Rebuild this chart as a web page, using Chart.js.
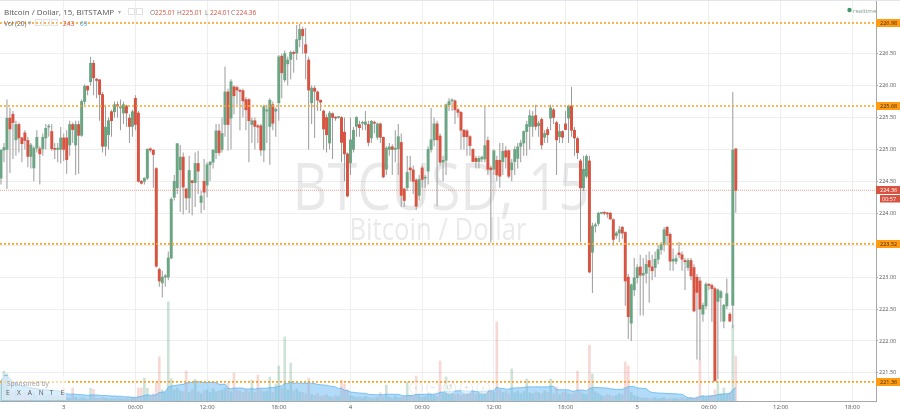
<!DOCTYPE html>
<html>
<head>
<meta charset="utf-8">
<script src="https://cdn.jsdelivr.net/npm/chart.js@4.4.1/dist/chart.umd.min.js"></script>
<style>
  html, body { margin: 0; padding: 0; background: #fff; }
  #chart { display: block; }
</style>
</head>
<body>
<canvas id="chart" width="900" height="410"></canvas>
<script>
// 15 minute BTCUSD bars, first bar is 21 bars before "3" 00:00
const firstBar = -21;

const opens = [
  224.55, 224.99, 225.00, 225.49, 225.55, 225.15, 225.39, 225.18, 225.26, 225.14,
  224.89, 224.71, 225.02, 225.01, 225.01, 225.18, 225.35, 225.28, 225.01, 225.00,
  225.00, 225.18, 225.18, 225.07, 225.39, 225.07, 225.39, 225.22, 225.75, 225.99,
  226.06, 226.35, 226.10, 226.09, 225.86, 225.05, 225.23, 225.59, 225.59, 225.70,
  225.65, 225.57, 225.68, 225.49, 225.36, 225.80, 225.57, 224.50, 224.50, 224.55,
  225.01, 224.99, 224.70, 223.12, 222.91, 223.00, 223.00, 223.30, 224.25, 224.40,
  224.68, 224.88, 224.38, 224.24, 224.51, 224.48, 224.78, 224.17, 224.50, 224.44,
  224.76, 224.80, 224.95, 225.29, 225.00, 225.39, 225.90, 225.49, 225.98, 225.97,
  225.92, 225.92, 225.78, 225.78, 225.39, 225.45, 225.37, 225.37, 224.99, 225.60,
  225.36, 225.70, 225.60, 225.73, 226.46, 226.09, 226.34, 226.41, 226.52, 226.51,
  226.72, 226.88, 226.64, 226.40, 225.73, 225.96, 225.90, 225.77, 225.60, 225.50,
  225.10, 225.56, 225.50, 225.50, 225.50, 225.27, 224.93, 224.79, 225.00, 225.36,
  225.39, 225.41, 225.39, 225.39, 225.18, 225.42, 225.19, 225.40, 225.19, 224.69,
  225.00, 225.04, 225.00, 225.01, 225.11, 224.38, 224.40, 224.71, 224.68, 224.52,
  224.28, 224.71, 224.55, 224.66, 225.00, 225.15, 225.40, 225.21, 224.80, 224.83,
  225.70, 225.76, 225.76, 225.62, 225.58, 225.30, 225.29, 225.20, 225.00, 224.86,
  224.81, 224.85, 224.85, 225.14, 224.71, 224.69, 224.83, 224.83, 224.81, 224.98,
  224.98, 224.68, 224.81, 224.86, 225.05, 225.10, 225.28, 225.36, 225.36, 225.53,
  225.37, 225.47, 225.19, 225.31, 225.49, 225.62, 225.42, 225.20, 225.28, 225.40,
  225.49, 225.68, 225.30, 225.17, 224.82, 224.40, 224.58, 224.82, 223.39, 223.80,
  223.84, 224.00, 224.01, 224.00, 224.00, 223.90, 223.65, 223.69, 223.78, 223.70,
  223.00, 222.28, 222.80, 222.99, 223.16, 223.03, 223.06, 223.26, 223.16, 223.15,
  223.28, 223.43, 223.51, 223.78, 223.67, 223.25, 223.25, 223.38, 223.35, 223.26,
  223.15, 223.26, 223.15, 223.00, 222.94, 222.42, 222.55, 222.89, 222.87, 222.82,
  222.62, 222.68, 222.31, 222.55, 222.42, 222.56, 225.01
];
const highs = [
  225.00, 225.10, 225.78, 225.65, 225.60, 225.45, 225.42, 225.20, 225.30, 225.20,
  225.10, 225.05, 225.30, 225.05, 225.25, 225.40, 225.40, 225.40, 225.10, 225.10,
  225.35, 225.25, 225.30, 225.45, 225.42, 225.45, 225.45, 225.78, 226.02, 226.00,
  226.45, 226.40, 226.12, 226.10, 225.90, 225.70, 225.50, 225.62, 225.75, 225.75,
  225.78, 225.75, 225.70, 225.55, 225.62, 225.85, 225.60, 224.52, 224.56, 225.02,
  225.03, 225.00, 224.72, 223.15, 223.10, 223.05, 223.40, 224.25, 224.60, 225.10,
  225.07, 224.95, 224.40, 224.90, 224.52, 224.95, 224.98, 224.35, 224.85, 224.80,
  224.82, 225.00, 225.40, 225.40, 225.50, 226.30, 225.95, 226.10, 226.00, 226.00,
  225.95, 225.95, 225.82, 225.80, 225.50, 225.50, 225.40, 225.40, 225.70, 225.70,
  225.80, 225.75, 225.66, 226.48, 226.50, 226.55, 226.45, 226.55, 226.55, 226.95,
  226.97, 226.92, 226.90, 226.45, 226.00, 226.00, 225.92, 225.78, 225.62, 225.55,
  225.60, 225.58, 225.52, 225.52, 225.52, 225.50, 224.95, 225.50, 225.35, 225.52,
  225.45, 225.45, 225.60, 225.45, 225.46, 225.45, 225.42, 225.42, 225.20, 225.05,
  225.10, 225.08, 225.30, 225.40, 225.25, 224.40, 224.90, 224.90, 224.75, 224.55,
  224.60, 224.75, 224.60, 225.05, 225.65, 225.50, 225.45, 225.25, 224.90, 225.72,
  225.80, 225.80, 225.78, 225.65, 225.60, 225.32, 225.32, 225.22, 225.02, 224.90,
  224.90, 224.90, 225.67, 225.20, 224.75, 225.00, 224.90, 225.10, 225.10, 225.05,
  225.00, 224.85, 225.05, 225.10, 225.15, 225.30, 225.45, 225.62, 225.60, 225.70,
  225.45, 225.50, 225.30, 225.35, 225.70, 225.65, 225.45, 225.40, 225.30, 225.60,
  225.70, 225.98, 225.35, 225.20, 224.85, 224.90, 224.92, 224.90, 223.85, 223.85,
  224.02, 224.02, 224.03, 224.02, 224.02, 223.92, 223.72, 223.80, 223.80, 223.72,
  223.05, 222.90, 223.30, 223.20, 223.35, 223.30, 223.35, 223.40, 223.35, 223.40,
  223.50, 223.55, 223.78, 223.80, 223.70, 223.45, 223.35, 223.55, 223.40, 223.30,
  223.30, 223.30, 223.20, 223.05, 223.00, 222.60, 222.92, 222.90, 222.90, 222.85,
  222.82, 222.80, 222.58, 222.98, 222.45, 225.90, 225.01
];
const lows = [
  224.45, 224.80, 224.38, 224.63, 224.85, 224.90, 224.95, 224.80, 225.00, 224.72,
  224.70, 224.50, 224.95, 224.45, 224.90, 225.00, 225.20, 224.98, 224.85, 224.80,
  224.78, 224.82, 224.62, 224.90, 225.10, 224.60, 224.62, 225.20, 225.70, 225.85,
  226.00, 225.85, 225.80, 225.45, 224.95, 224.90, 225.00, 225.20, 225.50, 225.50,
  225.30, 225.40, 225.35, 225.10, 225.20, 225.30, 224.48, 224.45, 224.45, 224.52,
  224.95, 224.40, 223.15, 222.85, 222.68, 222.85, 222.95, 223.28, 224.20, 224.30,
  224.02, 223.98, 224.05, 224.00, 223.97, 224.10, 224.30, 224.00, 224.05, 224.25,
  224.50, 224.70, 224.85, 224.90, 224.95, 225.20, 224.98, 225.00, 225.55, 225.70,
  225.30, 225.50, 225.30, 224.80, 225.10, 225.00, 225.10, 224.90, 224.80, 225.10,
  224.76, 225.30, 225.20, 225.45, 225.80, 226.05, 226.00, 226.10, 226.20, 226.40,
  226.60, 226.50, 226.10, 225.00, 225.40, 225.18, 225.60, 225.60, 225.00, 224.95,
  225.00, 224.85, 225.45, 225.48, 224.80, 224.50, 224.25, 224.60, 224.95, 225.20,
  225.20, 225.30, 225.30, 225.05, 225.10, 225.25, 225.15, 225.10, 224.55, 224.60,
  224.90, 224.60, 224.80, 224.60, 224.10, 224.10, 224.35, 224.50, 224.30, 224.05,
  224.20, 224.40, 224.40, 224.45, 224.95, 225.05, 224.11, 224.75, 224.50, 224.60,
  225.60, 225.60, 225.40, 225.50, 225.00, 225.00, 224.90, 224.90, 224.80, 224.70,
  224.70, 224.80, 224.80, 224.60, 223.54, 224.60, 224.50, 224.40, 224.60, 224.70,
  224.55, 224.50, 224.60, 224.70, 224.80, 224.90, 224.90, 225.00, 225.20, 225.30,
  225.20, 225.00, 225.10, 225.10, 225.30, 225.40, 224.60, 225.10, 225.10, 225.30,
  225.10, 225.20, 224.90, 224.85, 223.55, 224.35, 224.55, 223.06, 222.75, 223.70,
  223.80, 223.98, 223.97, 223.93, 223.90, 223.50, 223.60, 223.55, 223.60, 222.55,
  222.03, 222.00, 222.70, 222.90, 222.40, 222.40, 222.90, 222.60, 222.95, 223.00,
  223.20, 223.35, 223.40, 223.50, 223.10, 223.10, 223.20, 223.30, 223.10, 222.80,
  223.10, 222.95, 222.45, 221.71, 221.70, 222.30, 222.50, 222.80, 222.30, 221.36,
  221.40, 222.30, 222.20, 222.50, 222.30, 222.20, 224.01
];
const closes = [
  224.99, 225.03, 225.49, 225.32, 225.42, 225.39, 225.18, 225.09, 225.14, 224.89,
  225.07, 225.02, 225.19, 224.93, 225.19, 225.33, 225.36, 225.01, 225.00, 225.02,
  225.18, 225.00, 224.84, 225.39, 225.31, 225.39, 225.22, 225.75, 225.99, 225.93,
  226.35, 226.12, 226.08, 225.86, 225.05, 225.35, 225.45, 225.45, 225.70, 225.68,
  225.66, 225.70, 225.57, 225.36, 225.59, 225.39, 224.50, 224.47, 224.55, 225.00,
  224.99, 224.92, 223.17, 222.94, 223.00, 223.02, 223.30, 224.22, 224.50, 225.09,
  224.88, 224.41, 224.24, 224.67, 224.48, 224.78, 224.66, 224.27, 224.33, 224.76,
  224.80, 224.99, 225.29, 224.95, 225.25, 225.90, 225.39, 226.06, 225.84, 225.93,
  225.91, 225.76, 225.62, 225.45, 225.45, 225.36, 225.35, 224.99, 225.67, 225.62,
  225.77, 225.41, 225.63, 226.45, 226.20, 226.50, 226.40, 226.52, 226.50, 226.72,
  226.88, 226.78, 226.51, 225.93, 225.96, 225.91, 225.77, 225.74, 225.32, 225.23,
  225.57, 225.50, 225.49, 225.51, 225.11, 224.93, 224.27, 225.15, 225.30, 225.50,
  225.34, 225.42, 225.43, 225.11, 225.44, 225.41, 225.40, 225.19, 224.57, 225.02,
  225.04, 225.00, 225.02, 225.20, 224.28, 224.20, 224.64, 224.68, 224.50, 224.11,
  224.53, 224.53, 224.56, 225.00, 225.15, 225.40, 225.15, 224.80, 224.83, 225.70,
  225.75, 225.77, 225.62, 225.58, 225.30, 225.20, 225.20, 225.06, 224.81, 224.81,
  224.86, 224.88, 225.06, 224.69, 224.68, 224.98, 224.60, 224.58, 224.97, 224.88,
  224.58, 224.79, 225.00, 225.04, 225.10, 225.28, 225.39, 225.53, 225.52, 225.36,
  225.41, 225.07, 225.25, 225.23, 225.65, 225.50, 225.15, 225.28, 225.19, 225.31,
  225.68, 225.30, 225.18, 224.95, 224.40, 224.69, 224.89, 223.08, 223.80, 223.82,
  224.00, 224.01, 224.00, 223.99, 223.91, 223.59, 223.69, 223.74, 223.69, 222.94,
  222.38, 222.88, 222.99, 223.15, 223.03, 223.06, 223.20, 223.16, 223.10, 223.28,
  223.43, 223.51, 223.74, 223.65, 223.25, 223.28, 223.29, 223.35, 223.28, 223.24,
  223.26, 223.02, 222.47, 222.76, 222.50, 222.56, 222.89, 222.87, 222.82, 221.38,
  222.80, 222.77, 222.56, 222.74, 222.31, 224.99, 224.36
];
const volumes = [
  108, 162, 146, 60, 45, 55, 40, 38, 50, 42,
  35, 45, 30, 40, 38, 28, 35, 30, 25, 32,
  22, 70, 18, 15, 70, 20, 12, 18, 15, 10,
  68, 63, 14, 12, 20, 16, 10, 15, 12, 18,
  14, 10, 16, 12, 20, 15, 70, 70, 124, 69,
  25, 40, 103, 238, 60, 45, 535, 120, 60, 70,
  55, 50, 162, 45, 60, 117, 50, 40, 55, 60,
  45, 65, 50, 55, 60, 70, 97, 50, 151, 60,
  55, 45, 60, 50, 113, 45, 140, 60, 50, 55,
  130, 45, 92, 189, 70, 346, 60, 205, 55, 65,
  50, 45, 40, 124, 35, 30, 40, 25, 30, 35,
  25, 20, 30, 25, 113, 92, 60, 30, 25, 20,
  22, 18, 25, 20, 15, 18, 20, 45, 25, 86,
  20, 15, 25, 18, 20, 22, 103, 30, 25, 135,
  30, 20, 25, 40, 35, 30, 25, 216, 40, 130,
  50, 45, 35, 40, 30, 35, 45, 40, 50, 35,
  45, 55, 40, 60, 50, 45, 427, 60, 45, 50,
  40, 173, 45, 55, 40, 50, 119, 45, 40, 50,
  45, 40, 55, 45, 119, 40, 76, 35, 45, 50,
  40, 35, 45, 162, 50, 40, 35, 302, 146, 50,
  40, 30, 25, 35, 30, 25, 30, 40, 35, 211,
  189, 45, 30, 25, 20, 15, 18, 12, 15, 20,
  12, 15, 18, 10, 14, 12, 15, 10, 18, 12,
  15, 20, 12, 25, 221, 30, 20, 25, 30, 60,
  108, 40, 70, 35, 45, 410, 243
];

// time axis: bar numbers where the labels sit
const tickPositions = [0, 24, 48, 72, 96, 120, 144, 168, 192, 216, 240, 264];
const tickLabels = ['3', '06:00', '12:00', '18:00', '4', '06:00', '12:00', '18:00', '5', '06:00', '12:00', '18:00'];
const priceTicks = [221.5, 222.0, 222.5, 223.0, 223.5, 224.0, 224.5, 225.0, 225.5, 226.0, 226.5];

// drawn horizontal levels and last price
const levels = [226.98, 225.68, 223.52, 221.36];
const lastPrice = 224.36;
const countdown = '00:57';

const xMin = -21.33, xMax = 271.94;
const upColor = '#6ba583', downColor = '#d75442';
const FONT = '"Open Sans", sans-serif';

const barX = k => k + firstBar;
const bodyData = opens.map((o, k) => ({ x: barX(k), y: [o, closes[k]] }));
const wickData = opens.map((o, k) => ({ x: barX(k), y: [lows[k], highs[k]] }));
const bodyColors = opens.map((o, k) => closes[k] >= o ? upColor : downColor);
const volData = volumes.map((v, k) => ({ x: barX(k), y: v }));
const volColors = opens.map((o, k) => closes[k] >= o ? 'rgba(107,165,131,0.32)' : 'rgba(215,84,66,0.22)');

// Vol(20) moving average
const maData = volumes.map((v, k) => {
    const from = Math.max(0, k - 19);
    let sum = 0;
    for (let j = from; j <= k; j++) sum += volumes[j];
    return { x: barX(k), y: sum / (k - from + 1) };
});

const levelSets = levels.map(lvl => ({
    type: 'line',
    data: [{ x: xMin, y: lvl }, { x: xMax, y: lvl }],
    borderColor: '#ffa21f',
    borderWidth: 1.6,
    borderDash: [2, 2],
    pointRadius: 0,
    order: 0
}));

function fitText(ctx, text, cx, baseline, size, width) {
    ctx.save();
    ctx.font = `${size}px ${FONT}`;
    const w = ctx.measureText(text).width;
    ctx.translate(cx, baseline);
    ctx.scale(width / w, 1);
    ctx.textAlign = 'center';
    ctx.fillText(text, 0, 0);
    ctx.restore();
}

const overlay = {
    id: 'overlay',
    beforeDatasetsDraw(chart) {
        const ctx = chart.ctx;
        ctx.save();
        ctx.fillStyle = 'rgba(0,0,0,0.085)';
        fitText(ctx, 'BTCUSD, 15', 441, 210, 66, 297);
        fitText(ctx, 'Bitcoin / Dollar', 438, 240, 31, 177);
        ctx.restore();
    },
    afterDraw(chart) {
        const ctx = chart.ctx;
        const yScale = chart.scales.y;
        ctx.save();

        // top border
        ctx.fillStyle = '#e3e5ea';
        ctx.fillRect(0, 0, 900, 1);

        // header
        ctx.textBaseline = 'alphabetic';
        ctx.fillStyle = '#555';
        ctx.font = `8px ${FONT}`;
        ctx.fillText('Bitcoin / Dollar, 15, BITSTAMP', 4, 15);
        ctx.fillStyle = '#aaa';
        ctx.font = `6px ${FONT}`;
        ctx.fillText('▾', 118, 14);
        ctx.strokeStyle = '#e2e2e2';
        ctx.lineWidth = 1;
        [128.5, 136.5].forEach(x => ctx.strokeRect(x, 8.5, 6, 6));

        const ohlc = [['O', 150, '225.01', 155], ['H', 177, '225.01', 182], ['L', 205, '224.01', 210], ['C', 231, '224.36', 236]];
        ctx.font = `6.5px ${FONT}`;
        ohlc.forEach(([l, lx, v, vx]) => {
            ctx.fillStyle = '#777';
            ctx.fillText(l, lx, 15);
            ctx.fillStyle = downColor;
            ctx.fillText(v, vx, 15);
        });

        ctx.fillStyle = '#666';
        ctx.font = `6.5px ${FONT}`;
        ctx.fillText('Vol (20)', 4, 25.5);
        ctx.fillStyle = '#aaa';
        ctx.fillText('▾', 28, 25);
        [35.5, 43.5, 51.5].forEach(x => ctx.strokeRect(x, 19.5, 6, 6));
        ctx.fillStyle = downColor;
        ctx.fillText('243', 63, 25.5);
        ctx.fillStyle = '#4aa3df';
        ctx.fillText('69', 80, 25.5);

        // realtime marker
        ctx.fillStyle = '#3b9c68';
        ctx.beginPath();
        ctx.arc(849.5, 10, 2.2, 0, Math.PI * 2);
        ctx.fill();
        ctx.fillStyle = '#7a9d88';
        ctx.font = `6px ${FONT}`;
        ctx.fillText('realtime', 853, 12.5);

        // sponsor box
        ctx.fillStyle = 'rgba(255,255,255,0.55)';
        ctx.fillRect(2, 376, 64, 24);
        ctx.fillStyle = '#9a9a9a';
        ctx.font = `6.5px ${FONT}`;
        ctx.fillText('Sponsored by', 7, 386);
        ctx.fillStyle = '#555';
        ctx.font = `6.5px ${FONT}`;
        'EXANTE'.split('').forEach((c, i) => ctx.fillText(c, 6 + i * 10.9, 395));

        // navigation buttons
        const navs = ['‹', '−', '↺', '+', '›'];
        navs.forEach((s, i) => {
            const cx = 416 + i * 16.8, cy = 388;
            ctx.beginPath();
            ctx.arc(cx, cy, 6.2, 0, Math.PI * 2);
            ctx.fillStyle = 'rgba(255,255,255,0.6)';
            ctx.fill();
            ctx.strokeStyle = 'rgba(0,0,0,0.07)';
            ctx.stroke();
            ctx.fillStyle = 'rgba(0,0,0,0.2)';
            ctx.font = `8px ${FONT}`;
            ctx.textAlign = 'center';
            ctx.textBaseline = 'middle';
            ctx.fillText(s, cx, cy);
        });

        // price labels on the axis
        ctx.textAlign = 'left';
        ctx.textBaseline = 'middle';
        ctx.font = `5.5px ${FONT}`;
        levels.forEach(lvl => {
            const y = Math.round(yScale.getPixelForValue(lvl));
            ctx.fillStyle = '#ff9c12';
            ctx.fillRect(876, y - 4, 24, 8);
            ctx.fillStyle = '#3a2a10';
            ctx.fillText(lvl.toFixed(2), 880, y + 0.5);
        });
        const yp = Math.round(yScale.getPixelForValue(lastPrice));
        ctx.fillStyle = downColor;
        ctx.fillRect(876, yp - 4, 24, 8);
        ctx.fillRect(880, yp + 5, 20, 7.5);
        ctx.fillStyle = '#fff';
        ctx.fillText(lastPrice.toFixed(2), 880, yp + 0.5);
        ctx.fillText(countdown, 882, yp + 9);

        ctx.restore();
    }
};

new Chart(document.getElementById('chart'), {
    data: {
        datasets: [
            ...levelSets,
            {
                type: 'line',
                data: [{ x: xMin, y: lastPrice }, { x: xMax, y: lastPrice }],
                borderColor: 'rgba(215,84,66,0.55)',
                borderWidth: 1,
                borderDash: [1, 1],
                pointRadius: 0,
                order: 0
            },
            {
                type: 'bar',
                data: bodyData,
                backgroundColor: bodyColors,
                barThickness: 2.3,
                minBarLength: 1,
                grouped: false,
                order: 1
            },
            {
                type: 'bar',
                data: wickData,
                backgroundColor: '#9b9b9b',
                barThickness: 1,
                inflateAmount: 0,
                grouped: false,
                order: 2
            },
            {
                type: 'line',
                yAxisID: 'vol',
                data: maData,
                borderColor: 'rgba(90,178,240,0.75)',
                backgroundColor: 'rgba(100,184,242,0.5)',
                borderWidth: 1,
                fill: 'origin',
                pointRadius: 0,
                tension: 0,
                order: 3
            },
            {
                type: 'bar',
                yAxisID: 'vol',
                data: volData,
                backgroundColor: volColors,
                barThickness: 2,
                grouped: false,
                order: 4
            }
        ]
    },
    options: {
        responsive: false,
        animation: false,
        devicePixelRatio: 1,
        layout: { padding: 0 },
        plugins: { legend: { display: false }, tooltip: { enabled: false } },
        scales: {
            x: {
                type: 'linear',
                position: 'bottom',
                offset: false,
                min: xMin,
                max: xMax,
                grid: { color: '#eeeeee', tickLength: 2, offset: false },
                border: { color: '#a8a8a8' },
                ticks: {
                    color: '#555',
                    font: { size: 6, family: FONT },
                    padding: 1,
                    maxRotation: 0,
                    autoSkip: false,
                    callback: (v, i) => tickLabels[i]
                },
                afterBuildTicks(scale) { scale.ticks = tickPositions.map(v => ({ value: v })); },
                afterFit(scale) {
                    scale.height = 9;
                    scale.paddingLeft = 0;
                    scale.paddingRight = 0;
                }
            },
            y: {
                position: 'right',
                min: 221.06,
                max: 227.34,
                grid: { color: '#eeeeee', tickLength: 2, tickColor: '#a8a8a8' },
                border: { color: '#a8a8a8' },
                ticks: {
                    color: '#555',
                    font: { size: 5.5, family: FONT },
                    padding: 1,
                    callback: v => v.toFixed(2)
                },
                afterBuildTicks(scale) { scale.ticks = priceTicks.map(v => ({ value: v })); },
                afterFit(scale) {
                    scale.width = 24;
                    scale.paddingTop = 0;
                    scale.paddingBottom = 0;
                }
            },
            vol: {
                display: false,
                min: 0,
                max: 2165
            }
        }
    },
    plugins: [overlay]
});
</script>
</body>
</html>
